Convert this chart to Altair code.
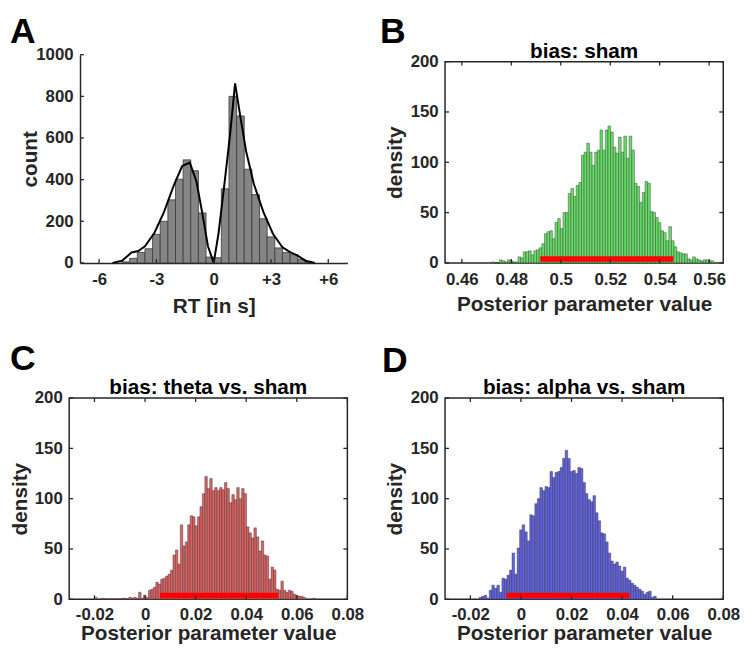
import altair as alt
import pandas as pd

FONT = "Liberation Sans"
INK = "#262626"
W, H = 282, 204

# ---------------- Panel A data ----------------
a_bin_start = -4.8
a_bin_width = 0.4
a_counts = [5, 22, 50, 68, 137, 200, 303, 402, 495, 443, 240, 28,
            25, 356, 800, 706, 450, 328, 212, 125, 72, 50, 40, 18, 3]
a_curve_x = [-5.3, -4.8, -4.3, -3.95, -3.6, -3.1, -2.6, -2.1, -1.65, -1.25, -0.9, -0.6, -0.3, 0.0,
             0.25, 0.55, 0.85, 1.12, 1.4, 1.7, 2.1, 2.6, 3.1, 3.6, 4.0, 4.4, 4.8, 5.3]
a_curve_y = [0, 10, 50, 57, 80, 145, 245, 370, 465, 482, 390, 240, 80, 0,
             140, 370, 610, 862, 700, 535, 380, 245, 140, 75, 52, 35, 10, 0]
a_xticks = [-6, -3, 0, 3, 6]
a_yticks = [0, 200, 400, 600, 800, 1000]
a_xdomain = [-7, 7]
a_ydomain = [0, 1000]

# ---------------- Panel B data ----------------
b_bin_start = 0.472
b_bin_width = 0.00107
b_counts = [1, 0, 0, 3, 2, 1, 3, 2, 1, 1,
            6, 5, 11, 11, 12, 8, 12, 13, 15, 19,
            29, 31, 32, 24, 40, 44, 34, 50, 50, 69,
            74, 66, 77, 80, 107, 110, 119, 110, 97, 110,
            112, 132, 112, 132, 136, 130, 115, 109, 125, 110,
            126, 104, 126, 112, 79, 76, 60, 70, 81, 79,
            51, 50, 45, 40, 32, 30, 22, 36, 22, 16,
            11, 10, 9, 9, 4, 3, 6, 4, 3, 2,
            3, 3, 2, 2]
b_hdi = [0.4917, 0.5455]
b_xdomain = [0.4532, 0.5657]
b_xticks = [0.46, 0.48, 0.5, 0.52, 0.54, 0.56]

# ---------------- Panel C data ----------------
c_bin_start = -0.0200
c_bin_width = 0.00097
c_counts = [2, 0, 0, 1, 0, 0.5, 0.5, 0.5, 0, 0.5,
            0, 1, 1, 0.5, 2, 1, 2, 1, 7, 1,
            4, 2, 9, 10, 12, 17, 15, 20, 21, 23,
            25, 29, 44, 49, 35, 74, 53, 57, 74, 83,
            82, 73, 82, 92, 105, 122, 110, 120, 108, 111,
            108, 111, 109, 116, 110, 96, 104, 99, 111, 100,
            110, 105, 72, 66, 61, 71, 62, 48, 58, 44,
            43, 20, 32, 29, 10, 9, 18, 9, 7, 9,
            8, 5, 4, 3, 3, 2, 0, 0, 0, 1]
c_hdi = [0.0059, 0.0526]

# ---------------- Panel D data ----------------
d_bin_start = -0.0165
d_bin_width = 0.001
d_counts = [2, 3, 4, 1, 9, 14, 11, 14, 7, 21,
            20, 24, 29, 46, 25, 51, 69, 74, 67, 58,
            84, 83, 95, 100, 111, 108, 112, 111, 127, 121,
            126, 127, 131, 140, 148, 140, 127, 128, 125, 131,
            130, 116, 105, 99, 97, 103, 86, 78, 66, 65,
            57, 46, 38, 35, 37, 33, 28, 32, 21, 19,
            16, 14, 12, 10, 8, 5, 7, 8, 2, 3]
d_hdi = [-0.0057, 0.0429]

cd_xdomain = [-0.03, 0.08]
cd_xticks = [-0.02, 0, 0.02, 0.04, 0.06, 0.08]
density_ticks = [0, 50, 100, 150, 200]
density_domain = [0, 200]


def bars_df(start, width, counts):
    n = len(counts)
    return pd.DataFrame({
        "lo": [start + i * width for i in range(n)],
        "hi": [start + (i + 1) * width for i in range(n)],
        "v": counts,
        "base": [0] * n,
    })


def text_layer(txt, dx, dy, size, align):
    return alt.Chart(pd.DataFrame({"t": [txt]})).mark_text(
        font=FONT, fontSize=size, fontWeight="bold", align=align,
        baseline="alphabetic", color="black"
    ).encode(text="t:N", x=alt.value(dx), y=alt.value(dy))


def tick_layers(xvals, yvals, x_left, x_right, box):
    xt = pd.DataFrame({"lo": xvals})
    yt = pd.DataFrame({"v": yvals})
    layers = [
        alt.Chart(xt).mark_rule(color=INK, strokeWidth=1.3).encode(
            x="lo:Q", y=alt.value(H), y2=alt.value(H - 4)),
        alt.Chart(yt).mark_rule(color=INK, strokeWidth=1.3).encode(
            y="v:Q", x=alt.value(x_left), x2=alt.value(x_left + 4)),
    ]
    if box:
        layers += [
            alt.Chart(xt).mark_rule(color=INK, strokeWidth=1.3).encode(
                x="lo:Q", y=alt.value(0), y2=alt.value(4)),
            alt.Chart(yt).mark_rule(color=INK, strokeWidth=1.3).encode(
                y="v:Q", x=alt.value(x_right), x2=alt.value(x_right - 4)),
        ]
    return layers


# ---------------- Panel A ----------------
a_xs = alt.Scale(domain=a_xdomain, range=[11, W], nice=False, zero=False)
a_ys = alt.Scale(domain=a_ydomain, range=[H, -7], nice=False, zero=False)

a_bars = alt.Chart(bars_df(a_bin_start, a_bin_width, a_counts)).mark_rect(
    fill="#858585", stroke="#3a3a3a", strokeWidth=0.8
).encode(
    x=alt.X("lo:Q", scale=a_xs, axis=alt.Axis(
        values=a_xticks, title="RT [in s]", titleY=50, titleBaseline="alphabetic",
        labelExpr="datum.value > 0 ? '+' + datum.value : '' + datum.value",
        ticks=False, domain=True, labelPadding=9, labelFlush=False)),
    x2="hi:Q",
    y=alt.Y("v:Q", scale=a_ys, axis=alt.Axis(
        values=a_yticks, title="count", titleX=-44, titleBaseline="alphabetic",
        labelExpr="'' + datum.value", offset=-11,
        ticks=False, domain=True, labelPadding=7)),
    y2="base:Q",
)
a_line = alt.Chart(pd.DataFrame({"lo": a_curve_x, "v": a_curve_y})).mark_line(
    color="black", strokeWidth=2
).encode(x="lo:Q", y="v:Q")
# white (invisible on the page) layout anchor fixing the figure's top-left corner
anchor = alt.Chart(pd.DataFrame({"k": [0]})).mark_rule(color="white", strokeWidth=1).encode(
    x=alt.value(-60), y=alt.value(-48), y2=alt.value(-44))

panel_a = alt.layer(
    a_bars, a_line, *tick_layers(a_xticks, a_yticks, 11, W, box=False),
    anchor, text_layer("A", -60, -18.5, 36, "left")
).properties(width=W, height=H, view=alt.ViewBackground(stroke="transparent"))


# ---------------- Posterior panels ----------------
def posterior_panel(start, width, counts, hdi, xdomain, xticks, fill, title, letter, ldx, ldy,
                    ytitle_x=-44, title_y=48, label_pad=9):
    xs = alt.Scale(domain=xdomain, nice=False, zero=False)
    ys = alt.Scale(domain=density_domain, nice=False, zero=False)
    bars = alt.Chart(bars_df(start, width, counts)).mark_rect(
        fill=fill, stroke="#333333", strokeOpacity=0.75, strokeWidth=0.6
    ).encode(
        x=alt.X("lo:Q", scale=xs, axis=alt.Axis(
            values=xticks, title="Posterior parameter value", titleY=title_y,
            titleBaseline="alphabetic", labelExpr="'' + datum.value",
            ticks=False, domain=False, labelPadding=label_pad, labelFlush=False)),
        x2="hi:Q",
        y=alt.Y("v:Q", scale=ys, axis=alt.Axis(
            values=density_ticks, title="density", titleX=ytitle_x,
            titleBaseline="alphabetic", labelExpr="'' + datum.value",
            ticks=False, domain=False, labelPadding=7)),
        y2="base:Q",
    )
    hdi_rule = alt.Chart(pd.DataFrame({"lo": [hdi[0]], "hi": [hdi[1]], "v": [3.8]})).mark_rule(
        color="#ff0000", strokeWidth=5.5, strokeCap="butt"
    ).encode(x="lo:Q", x2="hi:Q", y="v:Q")
    return alt.layer(
        bars, hdi_rule, *tick_layers(xticks, density_ticks, 0, W, box=True),
        text_layer(letter, ldx, ldy, 36, "left"),
        text_layer(title, W / 2, -4, 21, "center"),
    ).properties(width=W, height=H)


panel_b = posterior_panel(b_bin_start, b_bin_width, b_counts, b_hdi, b_xdomain, b_xticks,
                          "#66E066", "bias: sham", "B", -66, -18.5)
panel_c = posterior_panel(c_bin_start, c_bin_width, c_counts, c_hdi, cd_xdomain, cd_xticks,
                          "#E06262", "bias: theta vs. sham", "C", -60, -28.7, ytitle_x=-43,
                          title_y=41, label_pad=7)
panel_d = posterior_panel(d_bin_start, d_bin_width, d_counts, d_hdi, cd_xdomain, cd_xticks,
                          "#6262E6", "bias: alpha vs. sham", "D", -64, -26.7,
                          title_y=41, label_pad=7)

chart = alt.concat(
    panel_a, panel_b, panel_c, panel_d,
    columns=2, spacing={"row": 137, "column": 99}, bounds="flush"
).properties(padding=0).configure_view(
    stroke=INK, strokeWidth=1.5
).configure_axis(
    labelFont=FONT, labelFontSize=17, labelFontWeight="bold", labelColor=INK,
    titleFont=FONT, titleFontSize=21, titleFontWeight="bold", titleColor=INK,
    grid=False, domainColor=INK, domainWidth=1.5
)

chart.save("out.html", embed_options={"renderer": "svg", "actions": False})
